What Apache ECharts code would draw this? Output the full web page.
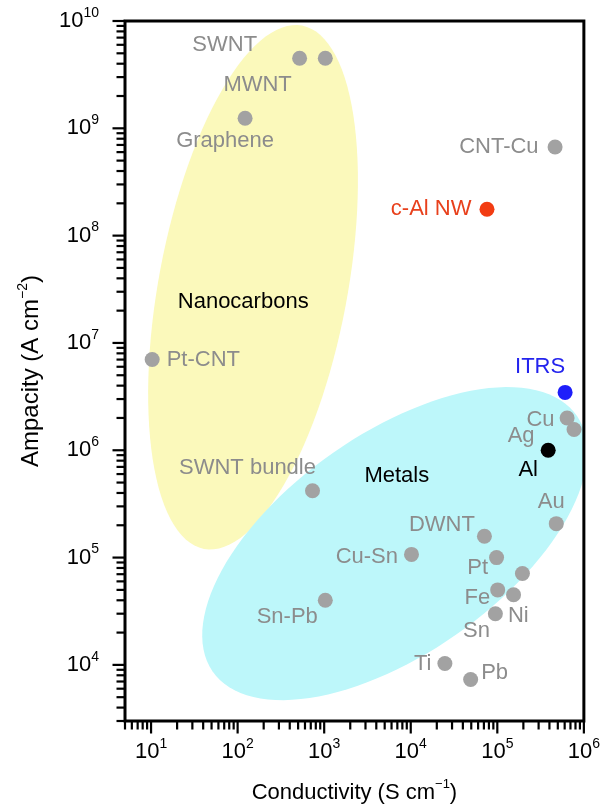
<!DOCTYPE html>
<html><head><meta charset="utf-8">
<script src="https://cdn.jsdelivr.net/npm/echarts@6/dist/echarts.min.js"></script>
<style>html,body{margin:0;padding:0;background:#fff}#c{width:603px;height:810px}</style>
</head><body><div id="c"></div>
<script>
// ---- data ----
const materials    = ['SWNT','MWNT','Graphene','CNT-Cu','c-Al NW','Pt-CNT','ITRS','Cu','Ag','Al','Au','SWNT bundle','DWNT','Cu-Sn','Pt','','Fe','Sn','Ni','Sn-Pb','Ti','Pb'];
const conductivity = [520, 1030, 122, 4.65e5, 7.6e4, 10.3, 6.07e5, 6.4e5, 7.7e5, 3.87e5, 4.8e5, 733, 7.1e4, 1.02e4, 9.8e4, 1.95e5, 1.01e5, 1.54e5, 9.5e4, 1030, 2.48e4, 4.92e4];
const ampacity     = [4.5e9, 4.5e9, 1.24e9, 6.7e8, 1.76e8, 7.0e6, 3.46e6, 2.0e6, 1.56e6, 1.0e6, 2.07e5, 4.2e5, 1.58e5, 1.07e5, 1.0e5, 7.1e4, 5.0e4, 4.5e4, 3.0e4, 4.0e4, 1.03e4, 7.3e3];
const groupNames   = ['Nanocarbons', 'Metals'];
const groupX       = [116, 6.9e3];
const groupY       = [2.4e7, 5.8e5];
// ellipses in log10 space: centre, and two conjugate semi-axis vectors (decades)
const ellipseCx = [2.178, 3.815];
const ellipseCy = [7.519, 5.130];
const ellipseUx = [0.567, 2.106];
const ellipseUy = [2.438, 1.189];
const ellipseVx = [1.071, 0.715];
const ellipseVy = [-0.166, -0.845];
const xMin = 5, xMax = 1e6, yMin = 3000, yMax = 1e10;

// ---- styles ----
const FONT = 'Liberation Sans, Arial, Helvetica, sans-serif';
const GRAY = '#a2a2a2', GRAYTXT = '#8c8c8c';
const ellipseColors = ['#fbf9bb', '#bdf7fa'];
const special = {
  'c-Al NW': {dot: '#f23c12', text: '#e8401c'},
  'ITRS':    {dot: '#1e1efa', text: '#2424ee'},
  'Al':      {dot: '#000000', text: '#000000'}
};
const labelPlace = {
  'SWNT':        ['left', 35, [0, -13]],
  'MWNT':        ['left', 26, [0, 27]],
  'Graphene':    ['bottom', 4, [-20, 0]],
  'CNT-Cu':      ['left', 9, [0, 0]],
  'c-Al NW':     ['left', 8, [0, 0]],
  'Pt-CNT':      ['right', 7, [0, 0]],
  'ITRS':        ['top', 7, [-25, 0]],
  'Cu':          ['left', 5, [0, 2]],
  'Ag':          ['left', 32, [0, 6]],
  'Al':          ['bottom', 1, [-20, 0]],
  'Au':          ['top', 3, [-5, 0]],
  'SWNT bundle': ['top', 4, [-65, 0]],
  'DWNT':        ['left', 2, [0, -11]],
  'Cu-Sn':       ['left', 6, [0, 3]],
  'Pt':          ['left', 1, [0, 10]],
  'Fe':          ['left', 0, [0, 8]],
  'Sn':          ['bottom', 18, [-37, 0]],
  'Ni':          ['right', 5, [0, 2]],
  'Sn-Pb':       ['left', 0, [0, 17]],
  'Ti':          ['left', 6, [0, 0]],
  'Pb':          ['right', 3, [0, -7]]
};

const points = materials.map((n, i) => {
  const sp = special[n];
  const lp = labelPlace[n];
  return {
    name: n,
    value: [conductivity[i], ampacity[i]],
    itemStyle: {color: sp ? sp.dot : GRAY, opacity: 1},
    label: lp ? {
      show: true, formatter: n, position: lp[0], distance: lp[1], offset: lp[2],
      color: sp ? sp.text : GRAYTXT, fontSize: 22, fontFamily: FONT, opacity: 1
    } : {show: false}
  };
});

// tick marks (major at powers of ten, minor at 2..9)
const tickData = [];
for (let e = 0; e <= 6; e++) for (let m = 1; m <= 9; m++) {
  const v = m * Math.pow(10, e);
  if (v >= xMin && v <= xMax * 1.0001) tickData.push([v, yMin, m === 1 ? 1 : 0, 0]);
}
for (let e = 3; e <= 10; e++) for (let m = 1; m <= 9; m++) {
  const v = m * Math.pow(10, e);
  if (v >= yMin && v <= yMax * 1.0001) tickData.push([xMin, v, m === 1 ? 1 : 0, 1]);
}

const rich = {
  b: {fontSize: 22, lineHeight: 30, fontFamily: FONT, color: '#000'},
  s: {fontSize: 14, lineHeight: 12, verticalAlign: 'top', fontFamily: FONT, color: '#000'}
};
const nameRichY = {
  b: {fontSize: 24, lineHeight: 30, fontFamily: FONT, color: '#000'},
  s: {fontSize: 14, lineHeight: 12, verticalAlign: 'top', fontFamily: FONT, color: '#000'}
};
const nameRichX = {
  b: {fontSize: 22, lineHeight: 30, fontFamily: FONT, color: '#000'},
  s: {fontSize: 13, lineHeight: 12, verticalAlign: 'top', fontFamily: FONT, color: '#000'}
};
function powLabel(v) {
  const e = Math.log10(v), r = Math.round(e);
  if (Math.abs(e - r) > 1e-6) return '';
  return '{b|10}{s|' + r + '}';
}

const chart = echarts.init(document.getElementById('c'), null, {renderer: 'canvas'});
chart.setOption({
  animation: false,
  backgroundColor: '#fff',
  grid: {left: 125, top: 21, right: 16, bottom: 89, show: true, borderColor: '#000', borderWidth: 3, backgroundColor: 'transparent', z: 10},
  xAxis: {
    type: 'log', logBase: 10, min: xMin, max: xMax,
    axisLine: {show: false}, axisTick: {show: false}, splitLine: {show: false},
    axisLabel: {margin: 16, formatter: powLabel, rich: rich},
    name: '{b|Conductivity (S cm}{s|−1}{b|)}', nameLocation: 'middle', nameGap: 57,
    nameTextStyle: {rich: nameRichX}
  },
  yAxis: {
    type: 'log', logBase: 10, min: yMin, max: yMax,
    axisLine: {show: false}, axisTick: {show: false}, splitLine: {show: false},
    axisLabel: {margin: 26, formatter: powLabel, rich: rich},
    name: '{b|Ampacity (A cm}{s|−2}{b|)}', nameLocation: 'middle', nameGap: 79,
    nameTextStyle: {rich: nameRichY}
  },
  series: [
    {
      type: 'custom', clip: true, silent: true, z: 1,
      data: ellipseCx.map((c, i) => [Math.pow(10, c), Math.pow(10, ellipseCy[i])]),
      renderItem: function (params, api) {
        const i = params.dataIndex;
        const pts = [];
        for (let k = 0; k < 120; k++) {
          const t = 2 * Math.PI * k / 120;
          const lx = ellipseCx[i] + ellipseUx[i] * Math.cos(t) + ellipseVx[i] * Math.sin(t);
          const ly = ellipseCy[i] + ellipseUy[i] * Math.cos(t) + ellipseVy[i] * Math.sin(t);
          pts.push(api.coord([Math.pow(10, lx), Math.pow(10, ly)]));
        }
        return {type: 'polygon', shape: {points: pts}, style: {fill: ellipseColors[i], stroke: null}};
      }
    },
    {
      type: 'custom', clip: false, silent: true, z: 3,
      data: tickData,
      renderItem: function (params, api) {
        const p = api.coord([api.value(0), api.value(1)]);
        const len = api.value(2) ? 11 : 7;
        const axis = api.value(3);
        const shape = axis === 0
          ? {x1: p[0], y1: p[1], x2: p[0], y2: p[1] + 1.5 + len}
          : {x1: p[0], y1: p[1], x2: p[0] - 1.5 - len, y2: p[1]};
        return {type: 'line', shape: shape, style: {stroke: '#000', lineWidth: 2.2}};
      }
    },
    {
      type: 'scatter', z: 4, symbolSize: 15, silent: true,
      itemStyle: {opacity: 1},
      data: points
    },
    {
      type: 'scatter', z: 4, symbolSize: 0, silent: true,
      itemStyle: {opacity: 1},
      data: groupNames.map((n, i) => ({name: n, value: [groupX[i], groupY[i]]})),
      label: {show: true, position: 'inside', formatter: '{b}', color: '#000', fontSize: 22, fontFamily: FONT}
    }
  ]
});
</script>
</body></html>
